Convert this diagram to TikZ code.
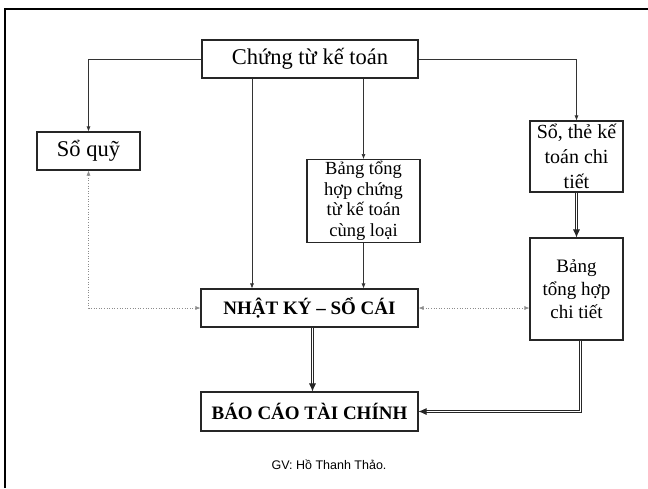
\documentclass[tikz,border=0pt]{standalone}
\usepackage{fontspec}
\setmainfont{Liberation Serif}
\newfontfamily\gvfont{Liberation Sans}
\usepackage{tikz}
\usetikzlibrary{arrows.meta, positioning, calc}

\begin{document}
\begin{tikzpicture}[
  x=1pt, y=-1pt,
  box/.style={draw=black!85, line width=1.1pt, align=center, inner sep=2pt},
  arr/.style={-{Latex[length=5pt,width=4pt]}, draw=black!80, line width=0.6pt},
  dbl/.style={-{Latex[length=8pt,width=7pt]}, draw=black!85, double, double distance=1.4pt, line width=0.7pt},
  dot/.style={{Latex[length=5pt,width=4pt]}-{Latex[length=5pt,width=4pt]}, draw=black!45, dotted, line width=0.6pt},
]
\useasboundingbox (0,0) rectangle (648,488);
\draw[line width=2pt] (5,488) -- (5,9) -- (648,9);

\node[box, minimum width=216pt, minimum height=38pt, font=\fontsize{22.5}{24}\selectfont] (ct) at (310,59) {Chứng từ kế toán};
\node[box, minimum width=103pt, minimum height=38pt, font=\fontsize{22.5}{24}\selectfont] (sq) at (88.5,151) {Sổ quỹ};
\node[box, minimum width=113pt, minimum height=64pt, font=\fontsize{18.5}{20.5}\selectfont] (bth) at (363.5,201) {Bảng tổng\\hợp chứng\\từ kế toán\\cùng loại};
\node[box, minimum width=93pt, minimum height=71pt, font=\fontsize{20}{25}\selectfont] (stct) at (576.5,156.5) {Sổ, thẻ kế\\toán chi\\tiết};
\node[box, minimum width=93pt, minimum height=102pt, font=\fontsize{19}{23}\selectfont] (bthct) at (576.5,289) {Bảng\\tổng hợp\\chi tiết};
\node[box, minimum width=217pt, minimum height=38pt, font=\fontsize{19}{20}\selectfont\bfseries] (nk) at (309.5,308) {NHẬT KÝ – SỔ CÁI};
\node[box, minimum width=217pt, minimum height=39pt, font=\fontsize{19}{20}\selectfont\bfseries] (bc) at (309.5,411.5) {BÁO CÁO TÀI CHÍNH};
\node[font=\gvfont\fontsize{12.5}{14}\selectfont] (gv) at (329,465) {GV: Hồ Thanh Thảo.};

\draw[arr] (ct.west) -| (sq.north);
\draw[arr] (ct.east) -| (stct.north);
\draw[arr] ([xshift=-58pt]ct.south) -- ([xshift=-58pt]ct.south |- nk.north);
\draw[arr] (bth.north |- ct.south) -- (bth.north);
\draw[arr] (bth.south) -- (bth.south |- nk.north);
\draw[dot] (sq.south) |- (nk.west);
\draw[dot] (nk.east) -- (nk.east -| bthct.west);
\draw[dbl] (stct.south) -- (bthct.north);
\draw[dbl] ([xshift=3pt]nk.south) -- ([xshift=3pt]bc.north);
\draw[dbl] ([xshift=4pt]bthct.south) |- (bc.east);

\end{tikzpicture}
\end{document}
